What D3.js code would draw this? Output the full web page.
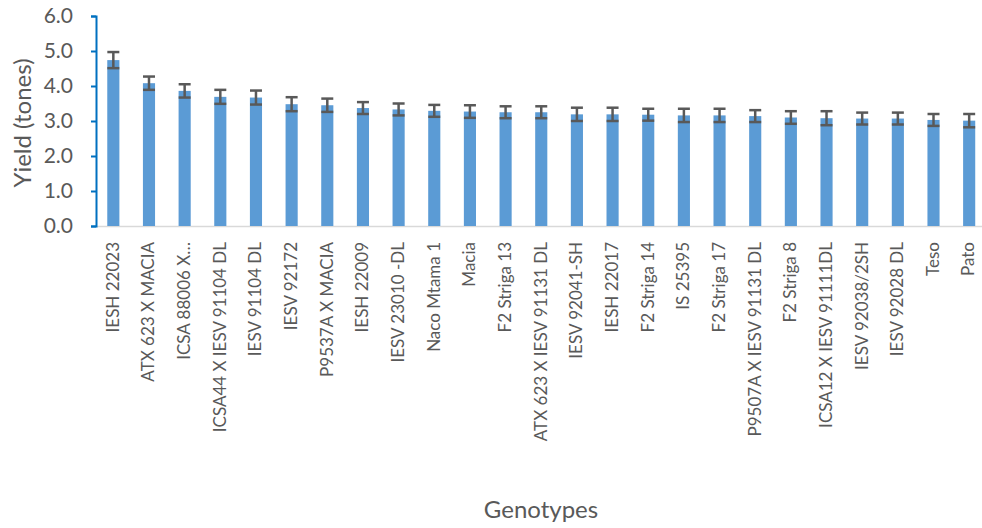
<!DOCTYPE html>
<html><head><meta charset="utf-8">
<script src="https://cdn.jsdelivr.net/npm/d3@7"></script>
<style>body{margin:0;background:#fff}svg{display:block}text{font-family:Lato,"Open Sans",sans-serif}</style>
</head><body><svg id="c" width="982" height="528"></svg>
<script>
const categories = ["IESH 22023","ATX 623 X MACIA","ICSA 88006 X…","ICSA44 X IESV 91104 DL","IESV 91104 DL","IESV 92172","P9537A X MACIA","IESH 22009","IESV 23010 -DL","Naco Mtama 1","Macia","F2 Striga 13","ATX 623 X IESV 91131 DL","IESV 92041-SH","IESH 22017","F2 Striga 14","IS 25395","F2 Striga 17","P9507A X IESV 91131 DL","F2 Striga 8","ICSA12 X IESV 91111DL","IESV 92038/2SH","IESV 92028 DL","Teso","Pato"];
const yieldValues = [4.74,4.08,3.86,3.69,3.67,3.48,3.45,3.37,3.33,3.29,3.27,3.25,3.25,3.19,3.19,3.18,3.16,3.16,3.14,3.10,3.08,3.07,3.07,3.03,3.01];
const errorValues = [0.23,0.19,0.19,0.2,0.2,0.2,0.19,0.17,0.17,0.17,0.18,0.17,0.17,0.19,0.19,0.17,0.19,0.19,0.17,0.18,0.2,0.17,0.17,0.17,0.19];
const yTicks = [0,1,2,3,4,5,6];

const svg = d3.select("#c");
const mLeft = 96, mRight = 987, mTop = 16, mBottom = 226;
const x = d3.scaleBand().domain(categories).range([mLeft - 0.5, mRight]).paddingInner(0.66).paddingOuter(0.33);
const y = d3.scaleLinear().domain([0, 6]).range([mBottom, mTop]);

svg.append("line").attr("x1", mLeft).attr("x2", 985).attr("y1", mBottom + 0.5).attr("y2", mBottom + 0.5)
  .attr("stroke", "#d9d9d9").attr("stroke-width", 1.5);

svg.append("g").selectAll("rect").data(categories).join("rect")
  .attr("x", d => x(d)).attr("width", x.bandwidth())
  .attr("y", (d, i) => y(yieldValues[i])).attr("height", (d, i) => y(0) - y(yieldValues[i]))
  .attr("fill", "#5b9bd5");

const eg = svg.append("g").attr("stroke", "#595959").attr("stroke-width", 2.5).attr("fill", "none");
categories.forEach((c, i) => {
  const cx = x(c) + x.bandwidth() / 2, hw = 6;
  const yt = y(yieldValues[i] + errorValues[i]), yb = y(yieldValues[i] - errorValues[i]);
  eg.append("line").attr("x1", cx).attr("x2", cx).attr("y1", yt).attr("y2", yb);
  eg.append("line").attr("x1", cx - hw).attr("x2", cx + hw).attr("y1", yt).attr("y2", yt);
  eg.append("line").attr("x1", cx - hw).attr("x2", cx + hw).attr("y1", yb).attr("y2", yb);
});

const ya = svg.append("g").attr("transform", `translate(${mLeft},0)`)
  .call(d3.axisLeft(y).tickValues(yTicks).tickFormat(d3.format(".1f")).tickSize(5).tickPadding(18));
ya.select(".domain").attr("stroke", "#0070c0").attr("stroke-width", 2);
ya.selectAll(".tick line").attr("stroke", "#0070c0").attr("stroke-width", 2);
ya.selectAll(".tick text").attr("fill", "#595959").attr("font-size", 21).attr("font-family", "Lato, sans-serif");

svg.append("g").selectAll("text").data(categories).join("text")
  .attr("transform", d => `translate(${x(d) + x.bandwidth() / 2 + 1},242) rotate(-90)`)
  .attr("text-anchor", "end").attr("dominant-baseline", "middle")
  .attr("fill", "#595959").attr("font-size", 17).text(d => d);

svg.append("text").attr("x", 541).attr("y", 518).attr("text-anchor", "middle")
  .attr("fill", "#595959").attr("font-size", 24).text("Genotypes");
svg.append("text").attr("transform", "translate(31,123) rotate(-90)").attr("text-anchor", "middle")
  .attr("fill", "#595959").attr("font-size", 24).text("Yield (tones)");
</script></body></html>
